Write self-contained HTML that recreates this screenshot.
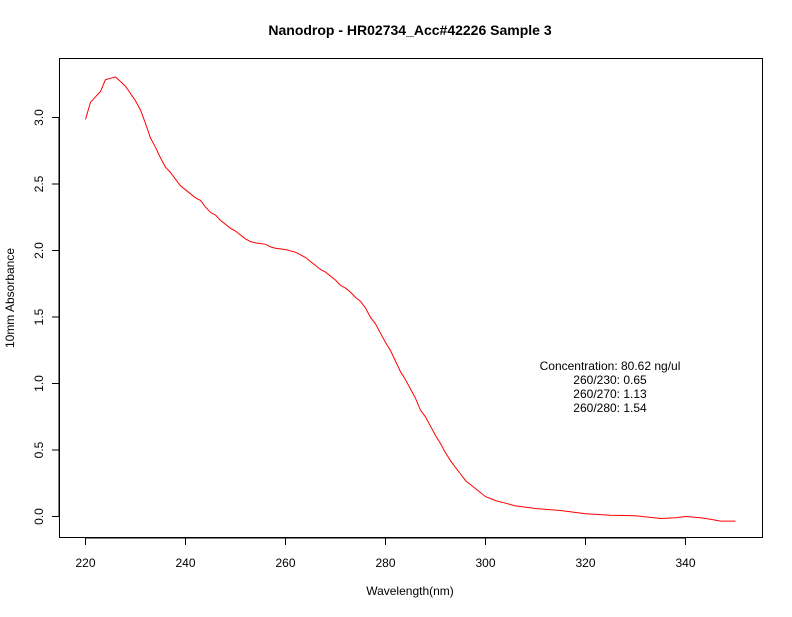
<!DOCTYPE html>
<html><head><style>
html,body{margin:0;padding:0;background:#fff;}
svg text{font-family:"Liberation Sans",Arial,sans-serif;fill:#000;}
</style></head><body>
<svg width="792" height="612" xmlns="http://www.w3.org/2000/svg">
<rect x="0" y="0" width="792" height="612" fill="#fff"/>
<text x="410" y="35" font-size="14" font-weight="bold" text-anchor="middle">Nanodrop - HR02734_Acc#42226 Sample 3</text>
<rect x="59.5" y="58.5" width="703" height="479" fill="none" stroke="#000" stroke-width="1"/>
<g stroke="#000" stroke-width="1">
<line x1="85.5" y1="538" x2="685.5" y2="538"/>
<line x1="85.5" y1="538" x2="85.5" y2="545"/>
<line x1="185.5" y1="538" x2="185.5" y2="545"/>
<line x1="285.5" y1="538" x2="285.5" y2="545"/>
<line x1="385.5" y1="538" x2="385.5" y2="545"/>
<line x1="485.5" y1="538" x2="485.5" y2="545"/>
<line x1="585.5" y1="538" x2="585.5" y2="545"/>
<line x1="685.5" y1="538" x2="685.5" y2="545"/>
<line x1="59" y1="516" x2="59" y2="118"/>
<line x1="52" y1="516.5" x2="59" y2="516.5"/>
<line x1="52" y1="450" x2="59" y2="450"/>
<line x1="52" y1="383.5" x2="59" y2="383.5"/>
<line x1="52" y1="317" x2="59" y2="317"/>
<line x1="52" y1="250.5" x2="59" y2="250.5"/>
<line x1="52" y1="184" x2="59" y2="184"/>
<line x1="52" y1="117.5" x2="59" y2="117.5"/>
</g>
<g font-size="12" text-anchor="middle">
<text x="85.5" y="567">220</text><text x="185.5" y="567">240</text><text x="285.5" y="567">260</text>
<text x="385.5" y="567">280</text><text x="485.5" y="567">300</text><text x="585.5" y="567">320</text><text x="685.5" y="567">340</text>
<text transform="translate(43,516.5) rotate(-90)">0.0</text>
<text transform="translate(43,450) rotate(-90)">0.5</text>
<text transform="translate(43,383.5) rotate(-90)">1.0</text>
<text transform="translate(43,317) rotate(-90)">1.5</text>
<text transform="translate(43,250.5) rotate(-90)">2.0</text>
<text transform="translate(43,184) rotate(-90)">2.5</text>
<text transform="translate(43,117.5) rotate(-90)">3.0</text>
<text x="410" y="595">Wavelength(nm)</text>
<text transform="translate(14,298) rotate(-90)">10mm Absorbance</text>
<text x="610" y="370">Concentration: 80.62 ng/ul</text>
<text x="610" y="384">260/230: 0.65</text>
<text x="610" y="398">260/270: 1.13</text>
<text x="610" y="412">260/280: 1.54</text>
</g>
<polyline id="c" fill="none" stroke="#ff0000" stroke-width="1"/>
<script>
var d=[[220,2.99],[221,3.12],[223,3.2],[224,3.29],[225,3.30],[226,3.31],[228,3.24],[230,3.13],[231,3.06],[232,2.96],[233,2.85],[234,2.78],[235,2.70],[236,2.63],[237,2.59],[238,2.54],[239,2.49],[240,2.46],[241,2.43],[242,2.40],[243,2.38],[244,2.33],[245,2.29],[246,2.27],[247,2.23],[248,2.20],[249,2.17],[250,2.15],[251,2.12],[252,2.09],[253,2.07],[254,2.06],[256,2.05],[257,2.03],[258,2.02],[260,2.01],[262,1.99],[264,1.95],[265,1.92],[266,1.89],[267,1.86],[268,1.84],[270,1.78],[271,1.74],[272,1.72],[273,1.69],[274,1.65],[275,1.62],[276,1.57],[277,1.50],[278,1.45],[279,1.38],[280,1.31],[281,1.25],[282,1.17],[283,1.09],[284,1.03],[285,0.96],[286,0.89],[287,0.80],[288,0.75],[289,0.68],[290,0.61],[291,0.55],[292,0.48],[293,0.42],[294,0.37],[295,0.32],[296,0.27],[297,0.24],[298,0.21],[299,0.18],[300,0.15],[302,0.12],[304,0.10],[306,0.08],[310,0.06],[315,0.045],[320,0.02],[325,0.01],[330,0.005],[335,-0.015],[338,-0.01],[340,0.0],[343,-0.01],[345,-0.02],[347,-0.035],[350,-0.035]];
document.getElementById('c').setAttribute('points',d.map(function(p){return (85.5+5*(p[0]-220)).toFixed(1)+','+(516.5-132.8*p[1]).toFixed(1);}).join(' '));
</script>
</svg>
</body></html>
